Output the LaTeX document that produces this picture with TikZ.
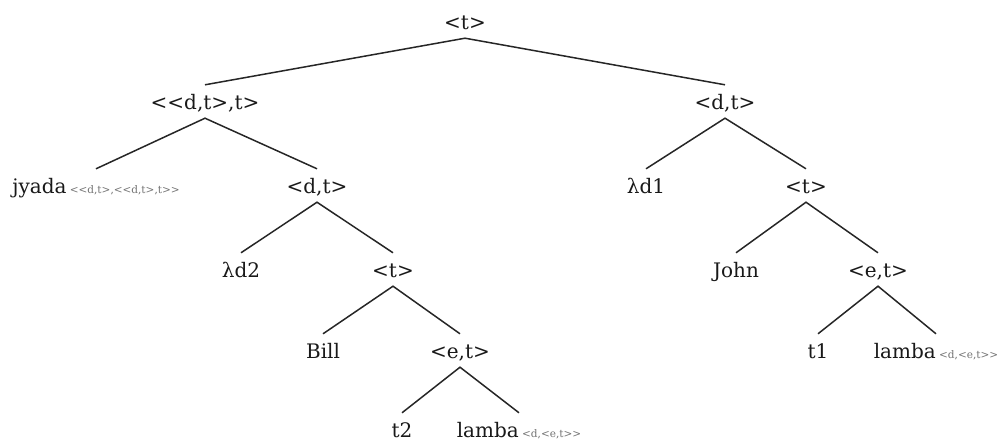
\documentclass[tikz,border=0pt]{standalone}
\usepackage{fontspec}
\setmainfont{DejaVu Serif}
\newcommand{\typsub}[1]{\,{\fontsize{10.5}{10}\selectfont\color{black!55}#1}}
\begin{document}
\begin{tikzpicture}[x=1pt,y=-1pt,
  lbl/.style={anchor=base,inner sep=0pt,text height=24pt,text depth=9pt,
    font=\fontsize{20}{24}\selectfont,text=black!90},
  edge/.style={line width=1.5pt,draw=black!85}]
\useasboundingbox (0,0) rectangle (1001,447);
% level 0
\node[lbl] (root) at (465,29) {<t>};
% level 1
\node[lbl] (A) at (205,109) {<{}<d,t>,t>};
\node[lbl] (B) at (725,109) {<d,t>};
% level 2
\node[lbl] (jyada) at (96,193) {jyada\typsub{<{}<d,t>,<{}<d,t>,t>{}>}};
\node[lbl] (C) at (317,193) {<d,t>};
\node[lbl] (ld1) at (646,193) {λd1};
\node[lbl] (D) at (806,193) {<t>};
% level 3
\node[lbl] (ld2) at (241,277) {λd2};
\node[lbl] (E) at (393,277) {<t>};
\node[lbl] (john) at (736,277) {John};
\node[lbl] (F) at (878,277) {<e,t>};
% level 4
\node[lbl] (bill) at (323,358) {Bill};
\node[lbl] (G) at (460,358) {<e,t>};
\node[lbl] (t1) at (818,358) {t1};
\node[lbl] (lambaR) at (936,358) {lamba\typsub{<d,<e,t>{}>}};
% level 5
\node[lbl] (t2) at (402,437) {t2};
\node[lbl] (lambaL) at (519,437) {lamba\typsub{<d,<e,t>{}>}};
% edges
\draw[edge] (A.north) -- (root.south) -- (B.north);
\draw[edge] (jyada.north) -- (A.south) -- (C.north);
\draw[edge] (ld2.north) -- (C.south) -- (E.north);
\draw[edge] (bill.north) -- (E.south) -- (G.north);
\draw[edge] (t2.north) -- (G.south) -- (lambaL.north);
\draw[edge] (ld1.north) -- (B.south) -- (D.north);
\draw[edge] (john.north) -- (D.south) -- (F.north);
\draw[edge] (t1.north) -- (F.south) -- (lambaR.north);
\end{tikzpicture}
\end{document}
